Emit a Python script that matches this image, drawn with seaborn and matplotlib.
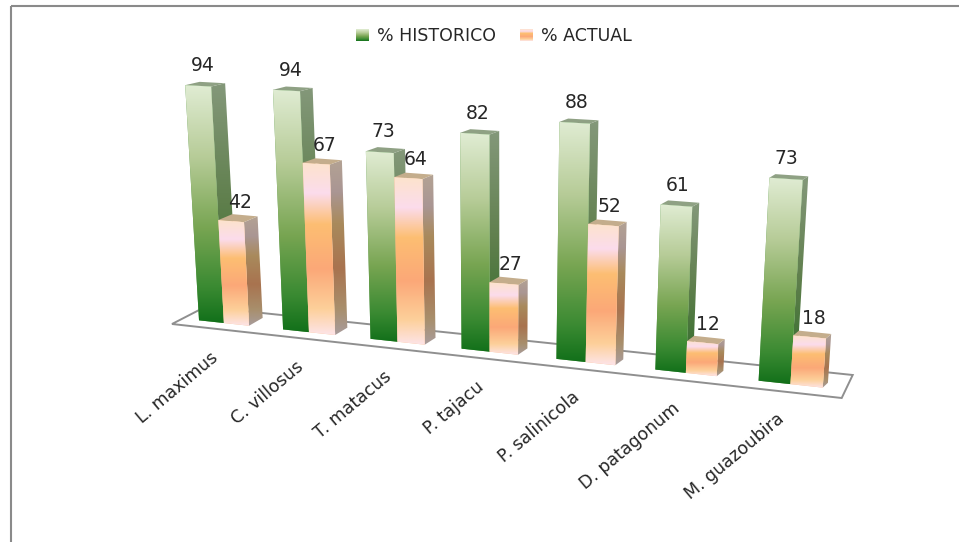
import numpy as np
import pandas as pd
import matplotlib
matplotlib.use("Agg")
import matplotlib.pyplot as plt
from matplotlib.colors import LinearSegmentedColormap
from matplotlib.legend_handler import HandlerBase
from matplotlib.patches import Patch, Polygon, Rectangle
from matplotlib.transforms import Transform
import seaborn as sns

# Species and occurrence percentages
species = ["L. maximus", "C. villosus", "T. matacus", "P. tajacu",
           "P. salinicola", "D. patagonum", "M. guazoubira"]
historico = [94, 94, 73, 82, 88, 61, 73]
actual = [42, 67, 64, 27, 52, 12, 18]
series_names = ["% HISTORICO", "% ACTUAL"]

W, H = 959, 542
TEXT = "#262626"

GREEN_STOPS = [(0, "#e0ecd3"), (0.3, "#b7cc98"), (0.6, "#78a552"), (0.85, "#3a8a32"), (1, "#12701a")]
ORANGE_STOPS = [(0, "#fde3cc"), (0.18, "#fbdcec"), (0.36, "#fdbe72"), (0.62, "#fba878"),
                (0.85, "#fdd09a"), (1, "#fde4e8")]
GREEN_SIDE = [(0, "#84987a"), (0.5, "#5f7f4c"), (1, "#2d6a28")]
ORANGE_SIDE = [(0, "#b3a293"), (0.18, "#aa9694"), (0.36, "#a98a5c"), (0.62, "#a8734f"),
               (0.85, "#a88f6c"), (1, "#a89c9c")]
green_cmap = LinearSegmentedColormap.from_list("green_face", GREEN_STOPS)
orange_cmap = LinearSegmentedColormap.from_list("orange_face", ORANGE_STOPS)
green_side = LinearSegmentedColormap.from_list("green_side", GREEN_SIDE)
orange_side = LinearSegmentedColormap.from_list("orange_side", ORANGE_SIDE)


def fit_homography(src, dst):
    """Least-squares planar homography from (category, value) to pixels."""
    rows, rhs = [], []
    for (u, v), (x, y) in zip(src, dst):
        rows.append([u, v, 1, 0, 0, 0, -u * x, -v * x])
        rhs.append(x)
        rows.append([0, 0, 0, u, v, 1, -u * y, -v * y])
        rhs.append(y)
    c = np.linalg.lstsq(np.array(rows, float), np.array(rhs, float), rcond=None)[0]
    return np.append(c, 1).reshape(3, 3)


# Calibration of the tilted front wall of the chart
WALL = fit_homography(
    [(-0.3, 0), (-0.3, 94), (0, 0), (0, 94), (0.3, 0), (0.3, 42), (0.7, 0), (0.7, 94),
     (1, 0), (1.3, 0), (2.7, 0), (2.7, 82), (3.7, 0), (3.7, 88),
     (5.7, 0), (5.7, 73), (6, 0), (6, 73), (6.3, 0), (6.3, 18)],
    [(200.7, 320.7), (186, 86), (224, 323), (210, 86), (248, 325), (242.7, 220.7),
     (284, 330), (273.3, 90.7), (308, 332), (334, 334), (462.7, 349.5), (460, 133),
     (557, 359.5), (560, 122.5), (760, 382), (770.7, 178), (790.7, 385), (802, 178),
     (822, 386.7), (824, 338)],
)


def project(u, v):
    p = WALL @ np.array([u, v, 1.0])
    return p[0] / p[2], p[1] / p[2]


def depth(u, v):
    """Pixel offset from the front face of a bar to its back face."""
    dx = 14 - 1.4 * u
    dy = -(8 - 0.5 * u) + (v / 100) * (5 - 0.5 * u)
    return dx, dy


class WallTransform(Transform):
    input_dims = 2
    output_dims = 2
    has_inverse = False

    def transform_non_affine(self, values):
        pts = np.c_[values, np.ones(len(values))] @ WALL.T
        return pts[:, :2] / pts[:, 2:]


sns.set_theme(style="white")
plt.rcParams["font.family"] = "DejaVu Sans"

fig = plt.figure(figsize=(W / 100, H / 100), dpi=100)
ax = fig.add_axes([0, 0, 1, 1])

frame = pd.DataFrame({
    "species": species * 2,
    "serie": [series_names[0]] * len(species) + [series_names[1]] * len(species),
    "pct": historico + actual,
})
sns.barplot(data=frame, x="species", y="pct", hue="serie", ax=ax, width=0.6, gap=0, legend=False,
            palette=["#5a9a4a", "#fdbf8c"], saturation=1)

# From here on the axes run in pixels; bars go through the wall projection
ax.set_xlim(0, W)
ax.set_ylim(H, 0)
ax.set_autoscale_on(False)
ax.set_axis_off()
wall = WallTransform() + ax.transData

# Chart border: only the top and left edges fall inside the canvas
ax.plot([11, W], [6, 6], color="#8a8a8a", lw=1.5, zorder=0.5, solid_capstyle="butt")
ax.plot([11, 11], [5.5, H], color="#8a8a8a", lw=1.5, zorder=0.5, solid_capstyle="butt")

# Floor of the 3-D scene
ax.add_patch(Polygon([(172, 324), (205, 307), (852.7, 375), (841.7, 398)], closed=True,
                     facecolor="white", edgecolor="#8f8f8f", lw=1.4, zorder=1))


def gradient_fill(patch, cmap, y_top, y_bottom, zorder):
    x0, x1 = patch.get_path().get_extents(patch.get_transform()).intervalx
    ramp = np.linspace(0, 1, 256).reshape(-1, 1)
    xs = ax.transData.inverted().transform([(x0, 0), (x1, 0)])[:, 0]
    im = ax.imshow(ramp, cmap=cmap, vmin=0, vmax=1, aspect="auto", interpolation="bilinear",
                   extent=(xs.min() - 2, xs.max() + 2, y_bottom, y_top), zorder=zorder)
    # Clip by the projected outline, not by the bar's untransformed box
    im.set_clip_path(patch.get_path(), patch.get_transform())
    return im


def draw_bar(bar, face, side, top_color, z):
    left, right = bar.get_x(), bar.get_x() + bar.get_width()
    value = bar.get_height()
    bar.set_transform(wall)
    bar.set_zorder(z + 0.2)
    bar.set_linewidth(0)

    fl_b, fr_b = project(left, 0), project(right, 0)
    fl_t, fr_t = project(left, value), project(right, value)
    d_rb, d_rt, d_lt = depth(right, 0), depth(right, value), depth(left, value)
    br_b = (fr_b[0] + d_rb[0], fr_b[1] + d_rb[1])
    br_t = (fr_t[0] + d_rt[0], fr_t[1] + d_rt[1])
    bl_t = (fl_t[0] + d_lt[0], fl_t[1] + d_lt[1])

    side_poly = Polygon([fr_t, br_t, br_b, fr_b], closed=True, facecolor="none", edgecolor="none",
                        zorder=z)
    ax.add_patch(side_poly)
    gradient_fill(side_poly, side, br_t[1], fr_b[1], z)
    ax.add_patch(Polygon([fl_t, fr_t, br_t, bl_t], closed=True, facecolor=top_color,
                         edgecolor="none", zorder=z + 0.1))
    gradient_fill(bar, face, min(fl_t[1], fr_t[1]), max(fl_b[1], fr_b[1]), z + 0.3)


green_bars, orange_bars = ax.containers[0], ax.containers[1]
for i in range(len(species)):
    z = 2 + i
    draw_bar(green_bars[i], green_cmap, green_side, "#8fa184", z)
    draw_bar(orange_bars[i], orange_cmap, orange_side, "#c4ad8c", z + 0.5)

# Value labels sit above each bar
for bars, nudge_x, lift in ((green_bars, -2, 18.5), (orange_bars, 2, 16)):
    for bar in bars:
        u = bar.get_x() + bar.get_width() / 2
        v = bar.get_height()
        dx, dy = depth(u, v)
        ax.annotate(f"{v:.0f}", xy=(u, v), xycoords=wall, xytext=(dx * 0.5 + nudge_x, lift - dy * 0.5),
                    textcoords="offset pixels", ha="center", va="center", fontsize=13.5,
                    color=TEXT, zorder=20)

# Slanted species names under the floor
for i, name in enumerate(species):
    ax.annotate(name, xy=(i, 0), xycoords=wall, xytext=(-14, -26), textcoords="offset pixels",
                rotation=40, rotation_mode="anchor", ha="right", va="top", fontsize=12.5,
                color=TEXT, zorder=20)


class GradientSwatch(HandlerBase):
    def __init__(self, cmap):
        super().__init__()
        self.cmap = cmap

    def create_artists(self, legend, orig_handle, xdescent, ydescent, width, height, fontsize, trans):
        strips = []
        n = 12
        for k in range(n):
            strips.append(Rectangle((-xdescent, -ydescent + height * (n - 1 - k) / n), width, height / n + 0.2,
                                    facecolor=self.cmap((k + 0.5) / n), edgecolor="none", transform=trans))
        return strips


handles = [Patch(label=series_names[0]), Patch(label=series_names[1])]
leg = ax.legend(handles=handles, loc="center", bbox_to_anchor=(494, 36),
                bbox_transform=ax.transData, ncol=2, frameon=False, fontsize=12.5,
                handlelength=0.75, handleheight=0.7, handletextpad=0.45, columnspacing=1.4,
                labelcolor=TEXT,
                handler_map={handles[0]: GradientSwatch(green_cmap),
                             handles[1]: GradientSwatch(orange_cmap)})
leg.set_zorder(20)

fig.savefig("out.png", dpi=100, facecolor="white")
